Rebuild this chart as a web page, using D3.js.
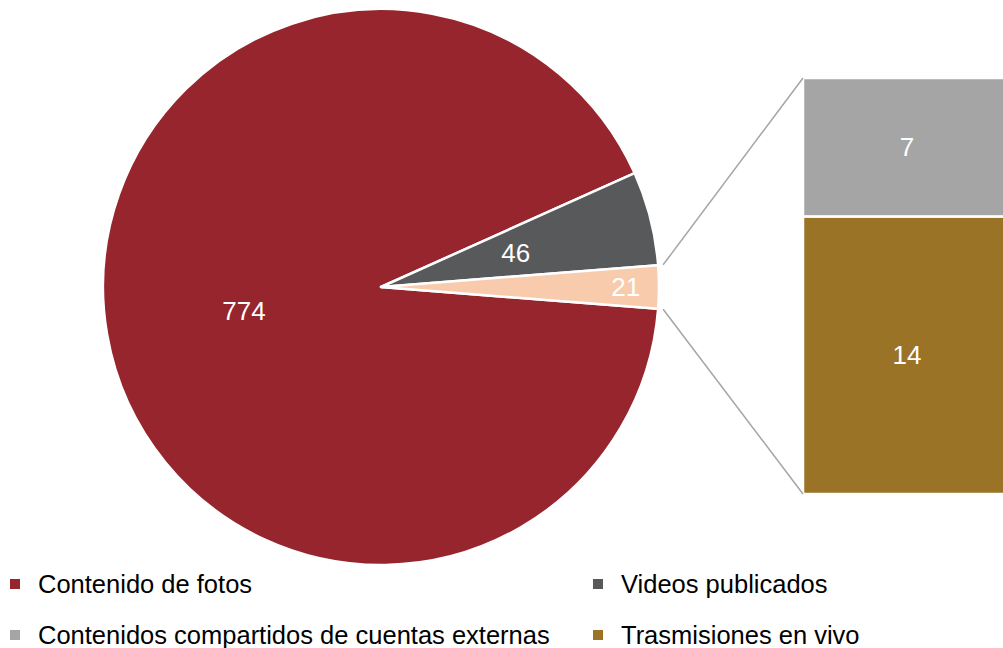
<!DOCTYPE html>
<html>
<head>
<meta charset="utf-8">
<script src="https://cdn.jsdelivr.net/npm/d3@7"></script>
<style>
  body { margin: 0; background: #fff; }
  text { font-family: 'Liberation Sans', Arial, Helvetica, sans-serif; }
</style>
</head>
<body>
<div id="chart"></div>
<script>
// pie values
var pieLabels = ['Contenido de fotos', 'Videos publicados', 'Otros']
var pieValues = [774, 46, 21]
// breakdown of "Otros" shown in the bar
var barLabels = ['Contenidos compartidos de cuentas externas', 'Trasmisiones en vivo']
var barValues = [7, 14]
// legend order
var legendLabels = ['Contenido de fotos', 'Videos publicados', 'Contenidos compartidos de cuentas externas', 'Trasmisiones en vivo']

var width = 1003
var height = 648

var pieColors = ['#96252e', '#58595b', '#f8cbad']
var barColors = ['#a5a5a5', '#9a7326']
var legendColors = ['#96252e', '#58595b', '#a5a5a5', '#9a7326']

var svg = d3.select('#chart')
  .append('svg')
  .attr('width', width)
  .attr('height', height)

var cx = 381
var cy = 287
var radius = 278

// put the "other" slice centred at 3 o'clock
var otherHalf = Math.PI * pieValues[2] / d3.sum(pieValues)
var pie = d3.pie()
  .sort(null)
  .startAngle(Math.PI / 2 + otherHalf)
  .endAngle(Math.PI / 2 + otherHalf + 2 * Math.PI)

var arcs = pie(pieValues)
var arc = d3.arc().innerRadius(0).outerRadius(radius)

var g = svg.append('g')
  .attr('transform', 'translate(' + cx + ',' + cy + ')')

g.selectAll('path')
  .data(arcs)
  .enter()
  .append('path')
  .attr('d', arc)
  .attr('fill', function (d, i) { return pieColors[i] })
  .attr('stroke', '#fff')
  .attr('stroke-width', 2.5)
  .attr('stroke-linejoin', 'round')

var labelRadius = [0.5, 0.5, 0.88]
g.selectAll('text.pie-label')
  .data(arcs)
  .enter()
  .append('text')
  .attr('class', 'pie-label')
  .attr('x', function (d, i) {
    var a = (d.startAngle + d.endAngle) / 2
    return Math.sin(a) * radius * labelRadius[i]
  })
  .attr('y', function (d, i) {
    var a = (d.startAngle + d.endAngle) / 2
    return -Math.cos(a) * radius * labelRadius[i]
  })
  .attr('dy', '0.35em')
  .attr('text-anchor', 'middle')
  .attr('fill', '#fff')
  .attr('font-size', 26)
  .text(function (d) { return d.value })

// bar of the "other" slice
var barX = 803
var barW = 205
var yScale = d3.scaleLinear()
  .domain([0, d3.sum(barValues)])
  .range([78, 494])

var stacked = []
var acc = 0
barValues.forEach(function (v, i) {
  stacked.push({ value: v, y0: acc, y1: acc + v, color: barColors[i] })
  acc += v
})

svg.selectAll('rect.bar')
  .data(stacked)
  .enter()
  .append('rect')
  .attr('class', 'bar')
  .attr('x', barX)
  .attr('y', function (d) { return yScale(d.y0) })
  .attr('width', barW)
  .attr('height', function (d) { return yScale(d.y1) - yScale(d.y0) })
  .attr('fill', function (d) { return d.color })
  .attr('stroke', '#fff')
  .attr('stroke-width', 2.5)

svg.selectAll('text.bar-label')
  .data(stacked)
  .enter()
  .append('text')
  .attr('class', 'bar-label')
  .attr('x', barX + 104)
  .attr('y', function (d) { return (yScale(d.y0) + yScale(d.y1)) / 2 })
  .attr('dy', '0.35em')
  .attr('text-anchor', 'middle')
  .attr('fill', '#fff')
  .attr('font-size', 26)
  .text(function (d) { return d.value })

// connector lines from the "other" slice to the bar
var other = arcs[2]
var edgeR = radius + 5
var lines = [
  { a: other.startAngle, y: yScale(0) },
  { a: other.endAngle, y: yScale(d3.sum(barValues)) }
]
svg.selectAll('line.connector')
  .data(lines)
  .enter()
  .append('line')
  .attr('class', 'connector')
  .attr('x1', function (d) { return cx + Math.sin(d.a) * edgeR })
  .attr('y1', function (d) { return cy - Math.cos(d.a) * edgeR })
  .attr('x2', barX)
  .attr('y2', function (d) { return d.y })
  .attr('stroke', '#a5a5a5')
  .attr('stroke-width', 1.5)

// legend
var legendPos = [[10, 584], [593, 584], [10, 635], [593, 635]]
var legend = svg.selectAll('g.legend')
  .data(legendLabels)
  .enter()
  .append('g')
  .attr('class', 'legend')
  .attr('transform', function (d, i) { return 'translate(' + legendPos[i][0] + ',' + legendPos[i][1] + ')' })

legend.append('rect')
  .attr('x', 0)
  .attr('y', -5)
  .attr('width', 10)
  .attr('height', 10)
  .attr('fill', function (d, i) { return legendColors[i] })

legend.append('text')
  .attr('x', 28)
  .attr('y', 0)
  .attr('dy', '0.35em')
  .attr('font-size', 25.5)
  .attr('fill', '#000')
  .text(function (d) { return d })
</script>
</body>
</html>
